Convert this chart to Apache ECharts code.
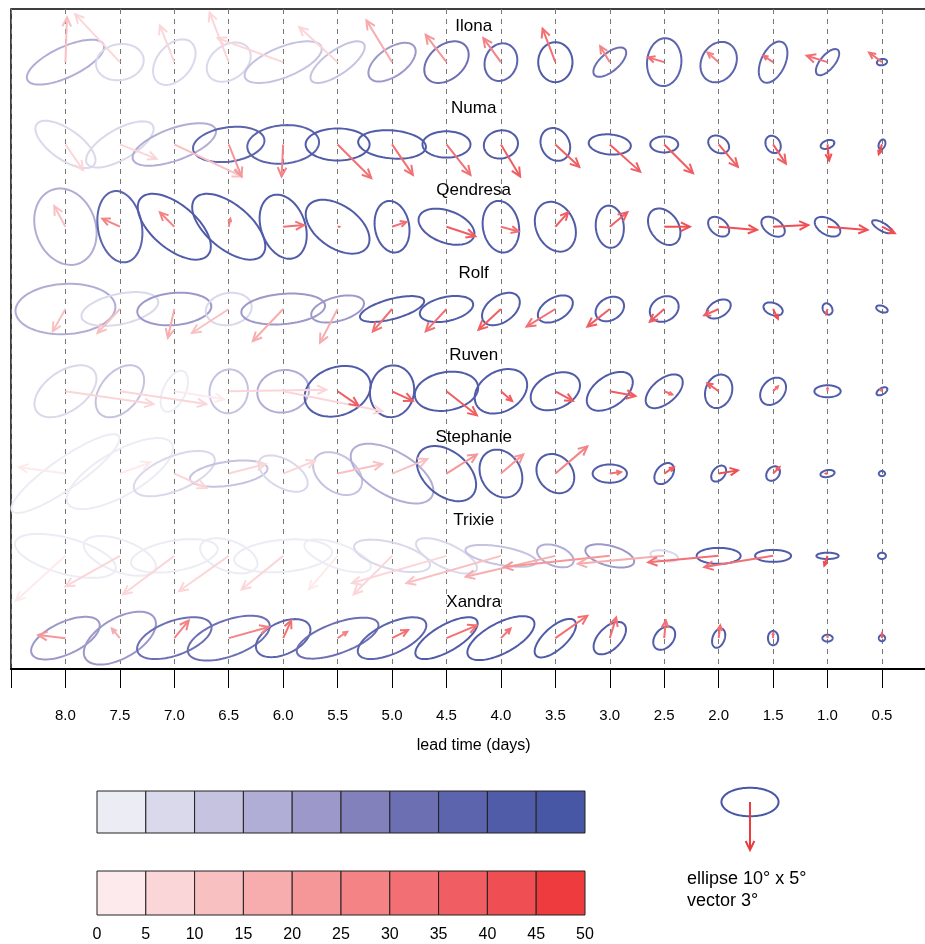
<!DOCTYPE html>
<html>
<head>
<meta charset="utf-8">
<script src="https://cdn.jsdelivr.net/npm/echarts@6/dist/echarts.min.js"></script>
<style>
html, body { margin: 0; background: #fff; }
#main { width: 925px; height: 944px; }
</style>
</head>
<body>
<div id="main"></div>
<script>
// lead times (days) and storms, one row per storm
var leadTimes = [8.0, 7.5, 7.0, 6.5, 6.0, 5.5, 5.0, 4.5, 4.0, 3.5, 3.0, 2.5, 2.0, 1.5, 1.0, 0.5];
var storms = ['Ilona', 'Numa', 'Qendresa', 'Rolf', 'Ruven', 'Stephanie', 'Trixie', 'Xandra'];

// ellipse full axes (degrees) and orientation (deg, counter-clockwise)
var ellMajor = [
    [14.7, 8.4, 9.1, 8.4, 14.4, 11.2, 9.5, 8.8, 6.7, 7.0, 7.0, 8.4, 7.4, 7.7, 5.6, 1.8],
    [12.3, 13.3, 15.4, 12.6, 12.6, 11.2, 11.9, 8.4, 6.0, 6.0, 7.4, 4.9, 3.9, 3.2, 2.5, 1.8],
    [13.7, 12.6, 15.4, 15.4, 11.6, 12.6, 9.1, 10.2, 9.1, 9.1, 7.4, 7.0, 4.2, 4.6, 4.9, 3.9],
    [17.5, 13.7, 13.0, 8.1, 14.7, 9.5, 11.6, 9.5, 7.4, 6.7, 5.3, 5.3, 4.6, 3.5, 2.1, 2.1],
    [12.3, 10.5, 7.7, 7.7, 9.1, 11.9, 9.1, 11.2, 9.8, 9.1, 9.1, 7.7, 6.0, 5.3, 4.6, 2.1],
    [22.8, 21.0, 15.1, 13.7, 9.5, 9.5, 16.1, 11.9, 8.8, 7.4, 6.0, 4.2, 3.2, 2.8, 2.5, 1.1],
    [18.2, 13.3, 15.4, 10.5, 17.2, 12.3, 13.7, 11.6, 12.6, 6.7, 8.8, 4.9, 7.7, 6.3, 3.9, 1.4],
    [13.0, 14.0, 13.7, 15.1, 10.2, 15.1, 13.0, 12.3, 13.0, 9.1, 7.0, 4.6, 3.5, 2.5, 1.8, 1.1]
];
var ellMinor = [
    [5.3, 6.3, 6.0, 6.0, 5.3, 4.2, 4.9, 6.0, 5.6, 6.0, 3.2, 6.0, 6.0, 4.2, 2.5, 1.1],
    [5.3, 5.3, 5.6, 6.0, 6.7, 5.6, 4.9, 4.6, 4.9, 4.9, 3.5, 2.8, 2.8, 2.5, 1.4, 1.1],
    [10.5, 7.7, 7.7, 7.7, 7.7, 7.4, 6.0, 5.6, 6.3, 6.7, 4.9, 4.9, 2.8, 2.8, 2.8, 1.4],
    [8.8, 5.3, 5.6, 5.6, 5.3, 4.2, 3.5, 4.2, 4.6, 3.9, 3.9, 4.2, 2.8, 2.1, 1.6, 1.1],
    [7.0, 6.7, 3.9, 6.7, 7.4, 8.4, 7.7, 6.7, 7.0, 6.0, 5.3, 4.2, 4.6, 3.9, 2.1, 1.1],
    [5.3, 7.7, 6.0, 4.2, 4.9, 6.3, 7.7, 7.7, 7.0, 6.0, 3.2, 2.8, 2.1, 2.1, 1.2, 0.9],
    [6.3, 5.6, 5.3, 5.3, 5.6, 4.2, 4.6, 4.2, 3.2, 3.5, 3.5, 1.8, 2.8, 2.1, 1.1, 1.1],
    [5.6, 7.0, 6.0, 6.3, 5.6, 5.3, 5.3, 4.6, 5.3, 3.9, 3.9, 3.2, 2.1, 1.8, 1.2, 1.1]
];
var ellAngle = [
    [25, 10, 50, 35, 22, 35, 35, 40, 70, 90, 40, 85, 60, 65, 50, 10],
    [-35, 30, 20, 8, 5, 0, -5, 0, 10, -60, -5, 0, -30, -60, 20, 70],
    [-70, -80, -40, -40, -70, -35, -80, -20, -80, -65, -85, -55, -40, -35, -30, -30],
    [3, 12, 5, 10, 5, 15, 15, 12, 35, 30, 30, 30, 30, -20, -60, -20],
    [35, 50, 65, 80, 10, 20, 80, 10, 30, 25, 35, 40, 70, 50, 0, 30],
    [35, 30, 22, 8, -30, -35, -30, -40, -60, -50, 0, 50, 50, 50, 10, 0],
    [-15, -20, 10, -20, 5, -20, -15, -25, -10, -20, -15, -10, 0, 0, 0, 0],
    [25, 30, 20, 20, 25, 20, 25, 30, 28, 42, 45, 50, 70, 90, 0, 0]
];
// ellipse colour value (0-50, blue scale)
var ellValue = [
    [17, 7, 7, 7, 12, 12, 22, 32, 37, 42, 32, 37, 37, 37, 37, 42],
    [7, 7, 17, 37, 37, 42, 42, 42, 42, 42, 42, 42, 42, 42, 42, 42],
    [17, 37, 42, 42, 42, 42, 42, 42, 42, 42, 42, 42, 42, 42, 42, 42],
    [17, 7, 22, 7, 22, 22, 42, 42, 42, 42, 42, 42, 42, 42, 42, 42],
    [7, 12, 2, 12, 17, 42, 42, 42, 42, 42, 42, 42, 42, 42, 42, 42],
    [2, 2, 7, 12, 7, 12, 17, 42, 42, 42, 42, 42, 42, 42, 42, 42],
    [2, 2, 2, 2, 2, 2, 7, 7, 12, 17, 22, 7, 42, 42, 42, 42],
    [22, 22, 32, 32, 37, 32, 37, 42, 42, 42, 42, 42, 42, 42, 42, 42]
];
// vector components (degrees, east / north)
var vecU = [
    [0.1, -2.8, -0.9, -1.2, -4.1, -2.4, -1.6, -1.3, -1.1, -0.8, -0.6, -1.0, -0.7, -0.6, -1.3, -0.8],
    [1.1, 2.3, 4.2, 0.8, -0.1, 2.1, 1.3, 1.5, 1.2, 1.5, 1.9, 1.8, 1.2, 0.8, 0.1, -0.2],
    [-0.7, -1.1, -0.9, 0.1, 1.3, 0.1, 0.9, 1.8, 1.1, 0.8, 1.1, 1.6, 2.4, 2.2, 2.5, 0.8],
    [-0.8, -1.4, -0.4, -2.3, -1.9, -1.1, -1.2, -1.3, -1.4, -1.8, -1.4, -0.9, -0.9, 0.3, -0.1, 0],
    [5.5, 5.4, 3.1, 6.1, 6.2, 1.3, 1.3, 1.9, 0.7, 1.1, 1.6, 0.5, -0.7, 0.3, 0, -0.1],
    [-2.9, 1.9, 2.0, 2.3, 2.0, 2.8, 2.2, 1.9, 1.4, 2.0, 0.7, 0.6, 1.2, 0.4, -0.1, 0],
    [-3.1, -3.4, -3.2, -3.1, -2.6, -1.8, -2.4, -5.9, -5.9, -5.6, -6.6, -5.4, -4.4, -4.3, -0.2, 0],
    [-1.7, -0.5, 0.9, 2.5, 0.5, 0.6, 1.0, 1.9, 0.6, 2.0, 0.4, 0.1, 0.1, 0, 0, 0]
];
var vecV = [
    [2.8, 3.0, 2.3, 3.1, 1.5, 2.2, 2.6, 1.7, 1.5, 2.1, 1.0, 0.3, 0.6, 0.4, 0.4, 0.6],
    [-1.6, -0.9, -2.0, -2.0, -2.0, -2.1, -1.9, -1.9, -2.0, -1.4, -1.7, -1.8, -1.4, -1.2, -1.0, -0.6],
    [1.3, 0.5, 0.9, 0.5, 0.1, 0, 0.3, -0.6, -0.3, 0.9, 0.9, 0, -0.2, 0.1, -0.2, -0.4],
    [-1.4, -1.5, -1.8, -1.5, -2.0, -2.1, -1.4, -1.4, -1.3, -1.1, -1.1, -0.8, -0.4, -0.6, -0.3, 0],
    [-0.8, -0.8, -0.5, 0.1, -1.25, -0.9, -0.6, -1.5, -0.6, -0.6, -0.3, -0.2, 0.5, 0.3, 0.2, 0.1],
    [0.4, 0.7, -0.9, 0.6, 0.8, 0.6, 0.9, 1.2, 1.2, 1.7, 0.1, 0.4, 0.2, 0.4, 0, 0],
    [-2.8, -1.9, -2.4, -2.2, -2.1, -2.1, -2.4, -1.7, -1.7, -1.3, -0.7, -0.5, -0.4, -0.7, -0.6, 0],
    [0.2, 0.6, 1.1, 0.7, 1.1, 0.4, 0.5, 0.8, 0.6, 1.4, 1.3, 1.1, 0.8, 0.3, 0.1, 0.3]
];
// vector colour value (0-50, red scale)
var vecValue = [
    [12, 7, 7, 7, 7, 7, 17, 22, 27, 32, 27, 32, 27, 32, 32, 32],
    [7, 7, 12, 22, 27, 32, 32, 32, 37, 37, 37, 37, 37, 37, 42, 42],
    [12, 27, 27, 27, 32, 32, 32, 37, 32, 37, 37, 42, 42, 42, 42, 42],
    [12, 12, 17, 12, 17, 17, 32, 32, 37, 32, 37, 37, 37, 42, 37, 37],
    [7, 7, 2, 7, 7, 37, 37, 37, 37, 37, 37, 32, 37, 32, 32, 32],
    [2, 2, 7, 7, 7, 12, 12, 22, 22, 27, 32, 37, 42, 37, 37, 37],
    [2, 7, 7, 7, 7, 2, 7, 7, 12, 17, 22, 17, 32, 32, 42, 42],
    [22, 17, 27, 27, 32, 27, 32, 32, 32, 32, 32, 32, 32, 32, 32, 37]
];

// colour key
var binEdges = [0, 5, 10, 15, 20, 25, 30, 35, 40, 45, 50];
var blueScale = ['#ECECF5', '#DAD8EB', '#C5C3E0', '#B0AED6', '#9C99CA', '#8281BC', '#6C70B3', '#5C64AD', '#515CA9', '#4757A5'];
var redScale = ['#FDEAEC', '#FBD6D9', '#F9C0C2', '#F7ACAD', '#F59799', '#F38385', '#F27073', '#F05D62', '#EF4E52', '#EE3B3D'];
var keyEllipse = [10, 5, 0];   // 10° x 5°
var keyVector = [0, -3];       // 3°

var ROW_STEP = 14.4;      // degrees between storm rows
var VEC_SCALE = 2.8;      // vectors drawn 2.8x the ellipse scale
var FONT = '"Liberation Sans", Arial, sans-serif';

var chart = echarts.init(document.getElementById('main'));

function binColor(scale, v) {
    var i = Math.min(9, Math.max(0, Math.floor(v / 5)));
    return scale[i];
}

var ellData = [], vecData = [], labelData = [];
storms.forEach(function (name, s) {
    var y = -s * ROW_STEP;
    leadTimes.forEach(function (t, k) {
        ellData.push([t, y, ellMajor[s][k], ellMinor[s][k], ellAngle[s][k], ellValue[s][k]]);
        vecData.push([t, y, vecU[s][k], vecV[s][k], vecValue[s][k]]);
    });
    labelData.push([4.25, y + 6.3, name]);
});

var binData = [];
for (var i = 0; i < 10; i++) binData.push([binEdges[i], binEdges[i + 1], i]);

function ellipseShape(api, cx, cy, major, minor, angle) {
    var unit = api.size([0, 1])[1];
    var rx = major / 2 * unit, ry = minor / 2 * unit;
    var phi = angle * Math.PI / 180, c = Math.cos(phi), s = Math.sin(phi);
    var pts = [];
    for (var i = 0; i < 80; i++) {
        var t = i / 80 * Math.PI * 2;
        var ex = rx * Math.cos(t), ey = ry * Math.sin(t);
        pts.push([cx + ex * c - ey * s, cy - (ex * s + ey * c)]);
    }
    return pts;
}

function arrowShapes(api, cx, cy, u, v, color) {
    var unit = api.size([0, 1])[1] * VEC_SCALE;
    var dx = u * unit, dy = -v * unit;
    var len = Math.sqrt(dx * dx + dy * dy);
    if (len < 1.5) return [];
    var ang = Math.atan2(dy, dx);
    var h = Math.min(10, len * 0.45);
    var tip = [cx + dx, cy + dy];
    var a1 = ang + Math.PI - 0.45, a2 = ang + Math.PI + 0.45;
    var style = { stroke: color, lineWidth: 2, fill: 'none' };
    return [
        { type: 'polyline', shape: { points: [[cx, cy], tip] }, style: style },
        { type: 'polyline', shape: { points: [
            [tip[0] + h * Math.cos(a1), tip[1] + h * Math.sin(a1)], tip,
            [tip[0] + h * Math.cos(a2), tip[1] + h * Math.sin(a2)]] }, style: style }
    ];
}

var option = {
    animation: false,
    grid: [
        { left: 11, top: 9, width: 925.4, height: 660, show: true, borderColor: '#000', borderWidth: 1.5, outerBoundsMode: 'none', containLabel: false },
        { left: 97, top: 791, width: 488, height: 42, outerBoundsMode: 'none' },
        { left: 97, top: 871, width: 488, height: 44, outerBoundsMode: 'none' },
        { left: 700, top: 770, width: 100, height: 100, outerBoundsMode: 'none' }
    ],
    xAxis: [
        {
            gridIndex: 0, type: 'value', inverse: true, min: 0, max: 8.5, interval: 0.5,
            name: 'lead time (days)', nameLocation: 'middle', nameGap: 69,
            nameTextStyle: { fontFamily: FONT, fontSize: 16, color: '#000' },
            axisLine: { show: true, onZero: false, lineStyle: { color: '#000', width: 2 } },
            axisTick: { show: true, inside: false, length: 19, lineStyle: { color: '#000', width: 1 } },
            axisLabel: {
                margin: 39, fontFamily: FONT, fontSize: 15, color: '#000', showMinLabel: true, showMaxLabel: true,
                formatter: function (v) { return (v <= 0 || v >= 8.5) ? '' : v.toFixed(1); }
            },
            splitLine: { show: true, lineStyle: { color: '#777', type: [5, 5], width: 1 } }
        },
        { gridIndex: 1, type: 'value', min: 0, max: 50, show: false },
        {
            gridIndex: 2, type: 'value', min: 0, max: 50, interval: 5,
            axisLine: { show: false }, axisTick: { show: false }, splitLine: { show: false },
            axisLabel: { margin: 12, fontFamily: FONT, fontSize: 16, color: '#000' }
        },
        { gridIndex: 3, type: 'value', min: 0, max: 17.5, show: false }
    ],
    yAxis: [
        { gridIndex: 0, type: 'value', min: -106.2, max: 9.3, show: false },
        { gridIndex: 1, type: 'value', min: 0, max: 1, show: false },
        { gridIndex: 2, type: 'value', min: 0, max: 1, show: false },
        { gridIndex: 3, type: 'value', min: 0, max: 17.5, show: false }
    ],
    graphic: [
        { type: 'text', left: 687, top: 870, style: { text: 'ellipse 10° x 5°', font: '18px ' + FONT, fill: '#000' } },
        { type: 'text', left: 687, top: 892, style: { text: 'vector 3°', font: '18px ' + FONT, fill: '#000' } }
    ],
    series: [
        {
            type: 'custom', xAxisIndex: 0, yAxisIndex: 0, silent: true, z: 2,
            data: ellData,
            renderItem: function (params, api) {
                var p = api.coord([api.value(0), api.value(1)]);
                return {
                    type: 'polygon',
                    shape: { points: ellipseShape(api, p[0], p[1], api.value(2), api.value(3), api.value(4)) },
                    style: { fill: 'none', stroke: binColor(blueScale, api.value(5)), lineWidth: 2 }
                };
            }
        },
        {
            type: 'custom', xAxisIndex: 0, yAxisIndex: 0, silent: true, z: 3,
            data: vecData,
            renderItem: function (params, api) {
                var p = api.coord([api.value(0), api.value(1)]);
                return { type: 'group', children: arrowShapes(api, p[0], p[1], api.value(2), api.value(3), binColor(redScale, api.value(4))) };
            }
        },
        {
            type: 'custom', xAxisIndex: 0, yAxisIndex: 0, silent: true, z: 4,
            data: labelData,
            renderItem: function (params, api) {
                var p = api.coord([api.value(0), api.value(1)]);
                return {
                    type: 'text', x: p[0], y: p[1],
                    style: { text: labelData[params.dataIndex][2], font: '17px ' + FONT, fill: '#000', align: 'center', verticalAlign: 'middle' }
                };
            }
        },
        {
            type: 'custom', xAxisIndex: 1, yAxisIndex: 1, silent: true,
            data: binData,
            renderItem: function (params, api) {
                var a = api.coord([api.value(0), 0]), b = api.coord([api.value(1), 1]);
                return { type: 'rect', shape: { x: a[0], y: b[1], width: b[0] - a[0], height: a[1] - b[1] },
                    style: { fill: blueScale[api.value(2)], stroke: '#222', lineWidth: 1 } };
            }
        },
        {
            type: 'custom', xAxisIndex: 2, yAxisIndex: 2, silent: true,
            data: binData,
            renderItem: function (params, api) {
                var a = api.coord([api.value(0), 0]), b = api.coord([api.value(1), 1]);
                return { type: 'rect', shape: { x: a[0], y: b[1], width: b[0] - a[0], height: a[1] - b[1] },
                    style: { fill: redScale[api.value(2)], stroke: '#222', lineWidth: 1 } };
            }
        },
        {
            type: 'custom', xAxisIndex: 3, yAxisIndex: 3, silent: true,
            data: [[8.75, 11.9, keyEllipse[0], keyEllipse[1], keyEllipse[2], keyVector[0], keyVector[1]]],
            renderItem: function (params, api) {
                var p = api.coord([api.value(0), api.value(1)]);
                var kids = [{
                    type: 'polygon',
                    shape: { points: ellipseShape(api, p[0], p[1], api.value(2), api.value(3), api.value(4)) },
                    style: { fill: 'none', stroke: blueScale[9], lineWidth: 2 }
                }].concat(arrowShapes(api, p[0], p[1], api.value(5), api.value(6), redScale[9]));
                return { type: 'group', children: kids };
            }
        }
    ]
};
chart.setOption(option);
</script>
</body>
</html>
